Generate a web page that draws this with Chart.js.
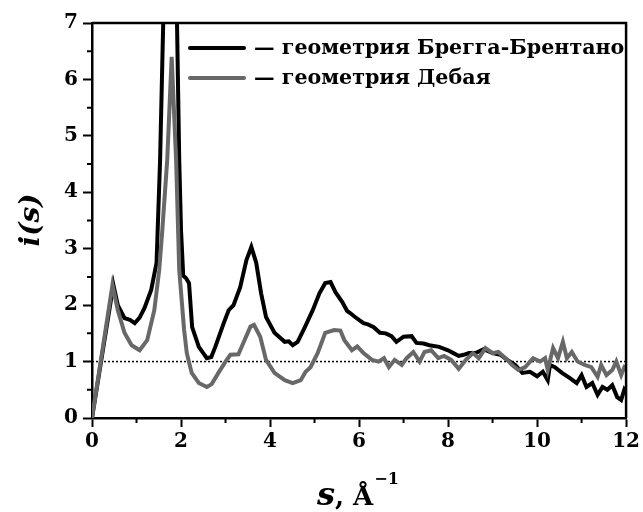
<!DOCTYPE html>
<html>
<head>
<meta charset="utf-8">
<script src="https://cdn.jsdelivr.net/npm/chart.js@4"></script>
<style>
  html, body { margin: 0; padding: 0; background: #fff; }
  #wrap { width: 643px; height: 512px; }
</style>
</head>
<body>
<div id="wrap"><canvas id="sf"></canvas></div>
<script>
// Bragg-Brentano geometry, i(s)
const bbS = [0, 0.48, 0.58, 0.73, 0.85, 0.96, 1.07, 1.18, 1.33, 1.45, 1.53, 1.6, 1.76, 1.91, 1.96, 2.0, 2.05, 2.11, 2.18, 2.25,
  2.4, 2.58, 2.68, 2.77, 2.96, 3.07, 3.18, 3.33, 3.47, 3.58, 3.69, 3.8, 3.91, 4.1, 4.33, 4.42, 4.51, 4.62, 4.77, 4.96,
  5.11, 5.24, 5.36, 5.47, 5.62, 5.73, 5.8, 5.91, 6.1, 6.2, 6.33, 6.47, 6.6, 6.73, 6.84, 7.0, 7.18, 7.29, 7.45, 7.58,
  7.8, 8.0, 8.12, 8.24, 8.35, 8.47, 8.62, 8.8, 9.0, 9.18, 9.33, 9.51, 9.67, 9.84, 10.0, 10.13, 10.24, 10.29, 10.4, 10.56,
  10.73, 10.89, 11.0, 11.11, 11.24, 11.36, 11.47, 11.58, 11.69, 11.8, 11.89, 11.96, 12.0];
const bbI = [0, 2.36, 2.0, 1.77, 1.74, 1.68, 1.78, 1.95, 2.27, 2.75, 4.57, 7.0, 10.5, 7.0, 4.57, 3.33, 2.52, 2.48, 2.39, 1.61,
  1.26, 1.06, 1.08, 1.26, 1.68, 1.91, 2.0, 2.32, 2.8, 3.03, 2.75, 2.21, 1.79, 1.51, 1.35, 1.36, 1.29, 1.35, 1.59, 1.91,
  2.21, 2.39, 2.41, 2.23, 2.06, 1.9, 1.86, 1.79, 1.68, 1.66, 1.61, 1.51, 1.5, 1.45, 1.35, 1.44, 1.45, 1.33, 1.32, 1.29,
  1.26, 1.2, 1.15, 1.1, 1.12, 1.15, 1.15, 1.22, 1.15, 1.12, 1.03, 0.94, 0.8, 0.82, 0.74, 0.82, 0.67, 0.94, 0.9, 0.8,
  0.71, 0.62, 0.76, 0.55, 0.62, 0.41, 0.55, 0.5, 0.58, 0.37, 0.32, 0.5, 0.45];

// Debye geometry, i(s)
const debS = [0, 0.46, 0.58, 0.73, 0.89, 1.07, 1.24, 1.4, 1.51, 1.58, 1.69, 1.79, 1.89, 1.96, 2.07, 2.13, 2.24, 2.4, 2.58, 2.69,
  2.84, 3.0, 3.11, 3.29, 3.4, 3.56, 3.64, 3.78, 3.91, 4.1, 4.33, 4.51, 4.69, 4.8, 4.91, 5.07, 5.24, 5.44, 5.58, 5.67,
  5.84, 5.96, 6.1, 6.29, 6.44, 6.56, 6.67, 6.8, 6.96, 7.07, 7.22, 7.36, 7.47, 7.62, 7.78, 7.91, 8.07, 8.24, 8.4, 8.56,
  8.69, 8.84, 9.0, 9.13, 9.29, 9.44, 9.58, 9.73, 9.91, 10.07, 10.18, 10.24, 10.36, 10.47, 10.58, 10.67, 10.78, 10.91, 11.07, 11.22,
  11.36, 11.44, 11.56, 11.69, 11.78, 11.89, 11.98];
const debI = [0, 2.36, 1.91, 1.51, 1.29, 1.2, 1.38, 1.91, 2.62, 3.33, 4.57, 6.4, 4.57, 2.62, 1.56, 1.15, 0.8, 0.62, 0.55, 0.6,
  0.8, 1.0, 1.12, 1.13, 1.33, 1.62, 1.65, 1.44, 1.03, 0.8, 0.67, 0.62, 0.67, 0.82, 0.9, 1.15, 1.51, 1.56, 1.55, 1.38,
  1.2, 1.27, 1.15, 1.03, 1.0, 1.06, 0.9, 1.03, 0.94, 1.06, 1.17, 1.0, 1.17, 1.2, 1.06, 1.1, 1.03, 0.87, 1.03, 1.15,
  1.06, 1.24, 1.15, 1.17, 1.06, 0.94, 0.85, 0.9, 1.06, 1.0, 1.06, 0.85, 1.24, 1.06, 1.35, 1.06, 1.17, 1.0, 0.94, 0.9,
  0.73, 0.94, 0.76, 0.85, 1.0, 0.76, 0.94];

// dotted reference at i(s) = 1
const refS = [0, 12];
const refI = [1, 1];

const labels = ['— геометрия Брегга-Брентано', '— геометрия Дебая'];
const xTicks = [0, 2, 4, 6, 8, 10, 12];
const yTicks = [0, 1, 2, 3, 4, 5, 6, 7];

const SERIF = '"DejaVu Serif", "Liberation Serif", serif';
const pts = (xs, ys) => xs.map((x, i) => ({ x: x, y: ys[i] }));

// frame, minor ticks, legend and axis titles
const decor = {
  id: 'decor',
  afterDraw(chart) {
    const ctx = chart.ctx;
    const a = chart.chartArea;
    const xs = chart.scales.x, ys = chart.scales.y;
    ctx.save();
    ctx.strokeStyle = '#000';
    ctx.lineWidth = 2.5;
    ctx.beginPath();
    ctx.moveTo(a.left, a.top);
    ctx.lineTo(a.right, a.top);
    ctx.lineTo(a.right, a.bottom);
    ctx.stroke();

    // minor ticks
    ctx.lineWidth = 2;
    ctx.beginPath();
    for (let v = 1; v < 12; v += 2) {
      const px = xs.getPixelForValue(v);
      ctx.moveTo(px, a.bottom);
      ctx.lineTo(px, a.bottom + 5);
    }
    for (let v = 0.5; v < 7; v += 1) {
      const py = ys.getPixelForValue(v);
      ctx.moveTo(a.left, py);
      ctx.lineTo(a.left - 5, py);
    }
    ctx.stroke();

    // legend, in label order
    ctx.font = 'bold 20.6px ' + SERIF;
    ctx.textBaseline = 'middle';
    ctx.textAlign = 'left';
    labels.forEach((lab, i) => {
      const ds = chart.data.datasets.find(d => d.label === lab);
      const y = 48 + i * 30;
      ctx.strokeStyle = ds.borderColor;
      ctx.lineWidth = 4;
      ctx.lineCap = 'round';
      ctx.beginPath();
      ctx.moveTo(190, y);
      ctx.lineTo(244, y);
      ctx.stroke();
      ctx.fillStyle = '#000';
      ctx.fillText(lab, 254, y + 1);
    });

    // y title
    ctx.save();
    ctx.translate(32, 220);
    ctx.rotate(-Math.PI / 2);
    ctx.font = 'italic bold 28px ' + SERIF;
    ctx.textAlign = 'center';
    ctx.textBaseline = 'middle';
    ctx.fillText('i(s)', 0, 0);
    ctx.restore();

    // x title: s, Å^-1
    ctx.textBaseline = 'alphabetic';
    ctx.textAlign = 'left';
    let x = 317;
    const base = 505;
    ctx.font = 'italic bold 32px ' + SERIF;
    ctx.fillText('s', x, base);
    x += ctx.measureText('s').width;
    ctx.font = 'bold 26px ' + SERIF;
    ctx.fillText(', Å', x, base);
    x += ctx.measureText(', Å').width + 1;
    ctx.font = 'bold 16px ' + SERIF;
    ctx.fillText('−1', x, base - 21);
    ctx.restore();
  }
};

new Chart(document.getElementById('sf'), {
  type: 'line',
  data: {
    datasets: [
      {
        label: labels[1],
        data: pts(debS, debI),
        borderColor: '#686868',
        borderWidth: 4,
        pointRadius: 0,
        tension: 0,
        order: 0
      },
      {
        label: labels[0],
        data: pts(bbS, bbI),
        borderColor: '#000000',
        borderWidth: 4,
        pointRadius: 0,
        tension: 0,
        order: 1
      },
      {
        label: 'ref',
        data: pts(refS, refI),
        borderColor: '#000000',
        borderWidth: 1.5,
        borderDash: [2, 2],
        pointRadius: 0,
        order: 2
      }
    ]
  },
  options: {
    responsive: true,
    maintainAspectRatio: false,
    animation: false,
    layout: { padding: { top: 23, right: 11, left: 0, bottom: 0 } },
    plugins: {
      legend: { display: false },
      tooltip: { enabled: false }
    },
    scales: {
      x: {
        type: 'linear',
        min: 0,
        max: 12,
        afterBuildTicks: (s) => { s.ticks = xTicks.map(v => ({ value: v })); },
        afterFit: (s) => { s.height = 94; },
        border: { display: true, color: '#000', width: 2.5 },
        grid: { drawOnChartArea: false, drawTicks: true, tickLength: 9, tickWidth: 2, tickColor: '#000' },
        ticks: { color: '#000', padding: 3, font: { family: SERIF, size: 20, weight: 'bold' } }
      },
      y: {
        min: 0,
        max: 7,
        afterBuildTicks: (s) => { s.ticks = yTicks.map(v => ({ value: v })); },
        afterFit: (s) => { s.width = 92; },
        border: { display: true, color: '#000', width: 2.5 },
        grid: { drawOnChartArea: false, drawTicks: true, tickLength: 9, tickWidth: 2, tickColor: '#000' },
        ticks: { color: '#000', padding: 5, font: { family: SERIF, size: 20, weight: 'bold' } }
      }
    }
  },
  plugins: [decor]
});
</script>
</body>
</html>
